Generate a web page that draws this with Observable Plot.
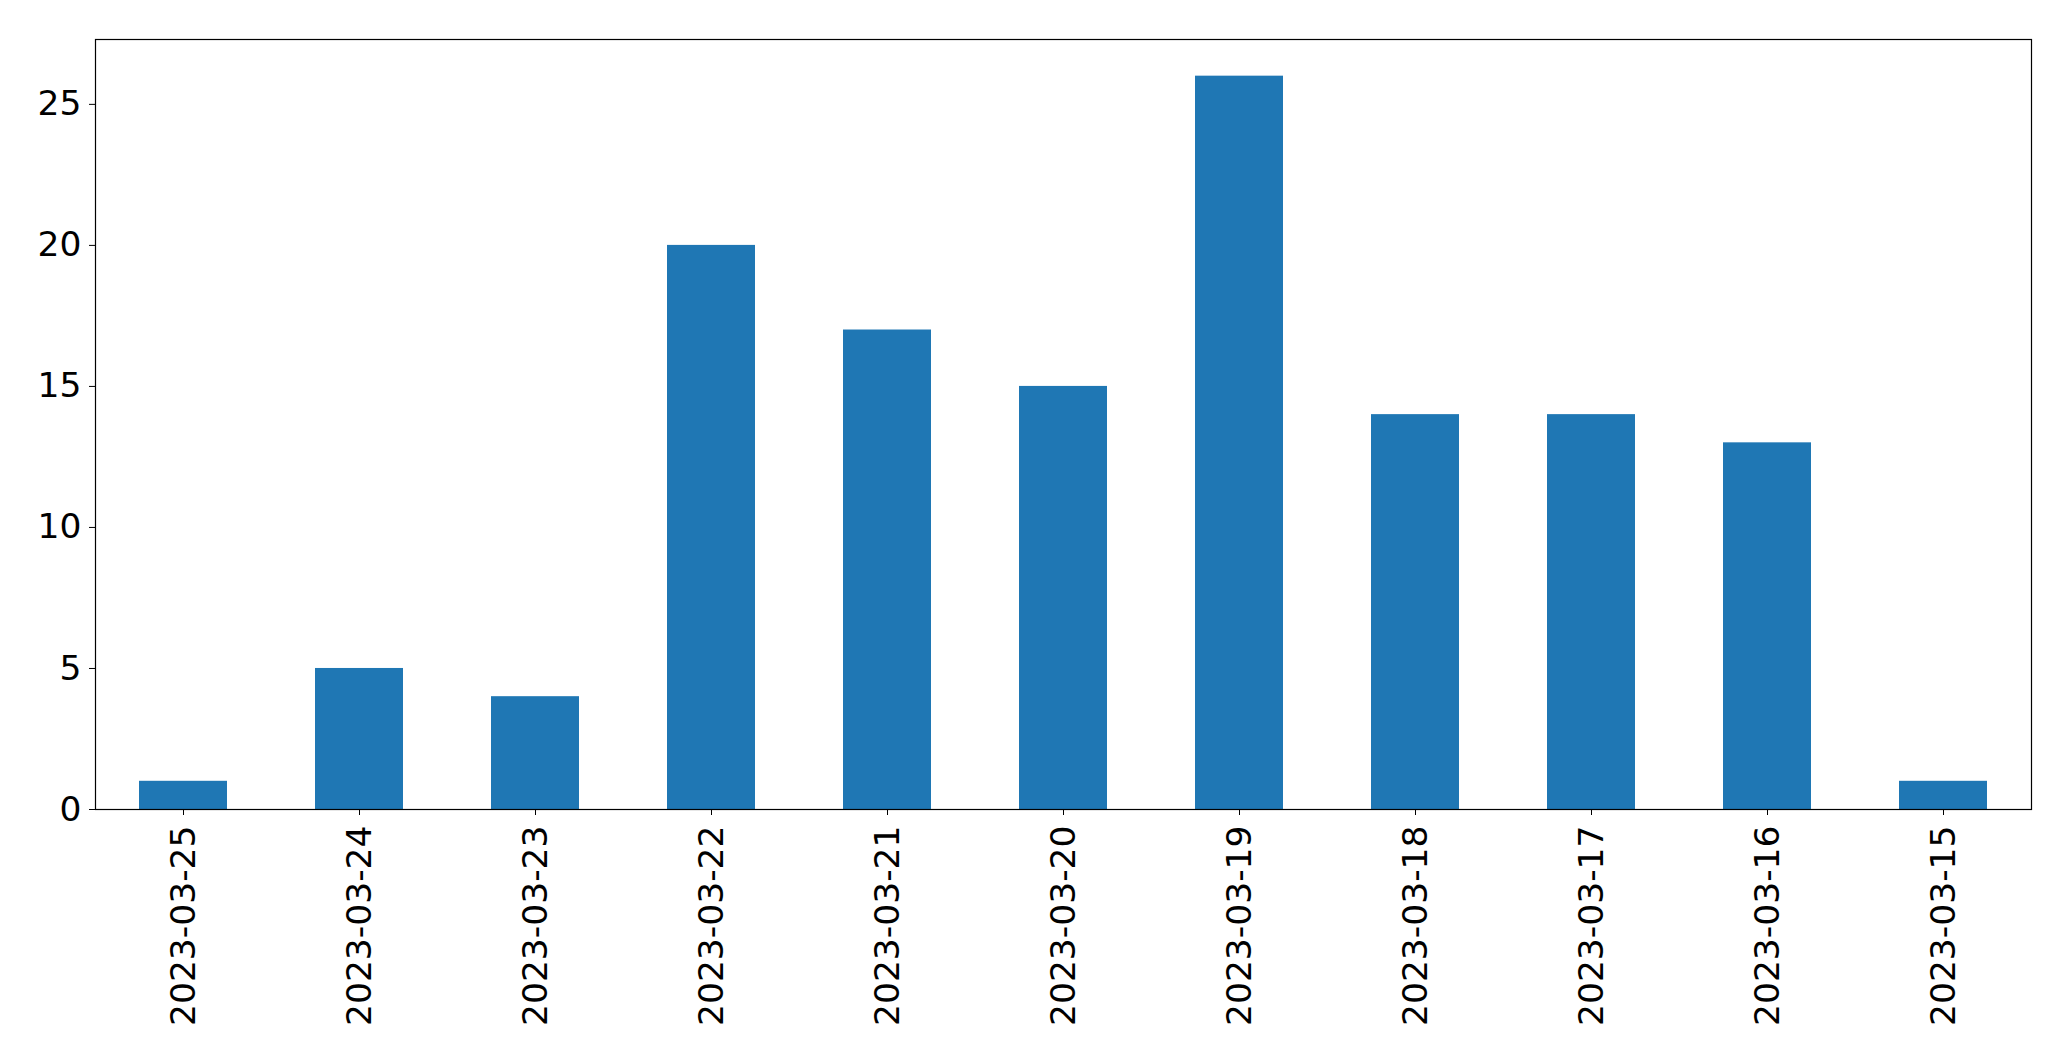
<!DOCTYPE html>
<html>
<head>
<meta charset="utf-8">
<script src="https://cdn.jsdelivr.net/npm/d3@7"></script>
<script src="https://cdn.jsdelivr.net/npm/@observablehq/plot@0.6"></script>
<style>
  html, body { margin: 0; padding: 0; background: #fff; }
</style>
</head>
<body>
<div id="chart"></div>
<script>
const dates = ["2023-03-25","2023-03-24","2023-03-23","2023-03-22","2023-03-21","2023-03-20","2023-03-19","2023-03-18","2023-03-17","2023-03-16","2023-03-15"];
const counts = [1, 5, 4, 20, 17, 15, 26, 14, 14, 13, 1];
const yTicks = [0, 5, 10, 15, 20, 25];

const data = dates.map((d, i) => ({date: d, count: counts[i]}));

const chart = Plot.plot({
  width: 2071,
  height: 1061,
  marginLeft: 95,
  marginRight: 40,
  marginTop: 39,
  marginBottom: 252,
  style: {fontFamily: "DejaVu Sans", fontSize: "34.5px", color: "#000", background: "#fff"},
  x: {domain: dates, paddingInner: 0.5, paddingOuter: 0.25, label: null},
  y: {domain: [0, 27.3], label: null},
  marks: [
    Plot.barY(data, {x: "date", y: "count", fill: "#1f77b4"}),
    Plot.axisX({tickRotate: -90, tickSize: 6, tickPadding: 10, fontSize: 34.5, label: null, stroke: "#000"}),
    Plot.axisY({ticks: yTicks, tickSize: 6, tickPadding: 8, fontSize: 34.5, label: null, stroke: "#000"}),
    Plot.frame({stroke: "#000", strokeWidth: 1.2})
  ]
});
document.getElementById("chart").appendChild(chart);
</script>
</body>
</html>
